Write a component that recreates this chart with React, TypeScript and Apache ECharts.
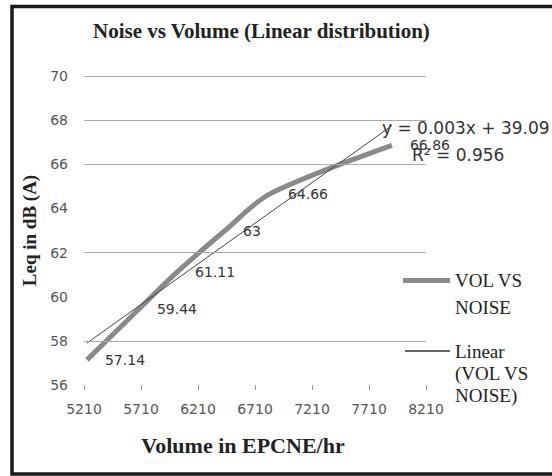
import React, { useEffect, useRef } from "react";
import * as echarts from "echarts";

// ---- data ----
const xTicks = [5210, 5710, 6210, 6710, 7210, 7710, 8210];
const volume = [5236, 5692, 6026, 6447, 6841, 7911];
const noise = [57.14, 59.44, 61.11, 63, 64.66, 66.86];
const trendVolume = [5236, 7911];
const trendNoise = [57.9, 67.75];
const gridValues = [58, 62, 66, 68, 70];
const seriesName = "VOL VS NOISE";
const trendName = "Linear (VOL VS NOISE)";
const equation = "y = 0.003x + 39.09";
const rSquared = "R² = 0.956";

const SERIF = "Liberation Serif";
const SANS = "DejaVu Sans";

export default function App() {
  const ref = useRef<HTMLDivElement>(null);
  useEffect(() => {
    if (!ref.current) return;
    const chart = echarts.init(ref.current, undefined, { renderer: "svg" });
    chart.setOption({
      animation: false,
      backgroundColor: "#ffffff",
      title: {
        text: "Noise vs Volume (Linear distribution)",
        left: 88,
        top: 15,
        textStyle: { fontFamily: SERIF, fontWeight: "bold", fontSize: 21, color: "#222" },
      },
      grid: { left: 84, right: 126, top: 76, bottom: 91, containLabel: false },
      xAxis: {
        type: "value",
        min: xTicks[0],
        max: xTicks[xTicks.length - 1],
        name: "Volume in EPCNE/hr",
        nameLocation: "middle",
        nameGap: 49,
        nameTextStyle: {
          fontFamily: SERIF,
          fontWeight: "bold",
          fontSize: 22,
          color: "#222",
          padding: [0, 24, 0, 0],
        },
        axisLine: { show: false },
        axisTick: { show: true, customValues: xTicks, length: 5, lineStyle: { color: "#999" } },
        axisLabel: {
          customValues: xTicks,
          formatter: (v: number) => String(v),
          fontFamily: SANS,
          fontSize: 14,
          color: "#555",
          margin: 17,
        },
        splitLine: { show: false },
      },
      yAxis: {
        type: "value",
        min: 56,
        max: 70,
        interval: 2,
        name: "Leq in dB (A)",
        nameLocation: "middle",
        nameGap: 41,
        nameTextStyle: { fontFamily: SERIF, fontWeight: "bold", fontSize: 19, color: "#222" },
        axisLine: { show: false },
        axisTick: { show: false },
        axisLabel: { fontFamily: SANS, fontSize: 14, color: "#555", margin: 16 },
        splitLine: { show: false },
      },
      legend: [
        {
          data: [seriesName],
          orient: "vertical",
          left: 403,
          top: 240,
          padding: 0,
          icon: "rect",
          itemWidth: 47,
          itemHeight: 5,
          itemGap: 4,
          itemStyle: { color: "#8a8a8a" },
          formatter: () => " \nVOL VS\nNOISE",
          textStyle: {
            fontFamily: SERIF,
            fontSize: 19,
            color: "#222",
            lineHeight: 27,
          },
        },
        {
          data: [trendName],
          orient: "vertical",
          left: 405,
          top: 296,
          padding: 0,
          icon: "rect",
          itemWidth: 45,
          itemHeight: 1.5,
          itemGap: 4,
          itemStyle: { color: "#333" },
          formatter: () => " \n \nLinear\n(VOL VS\nNOISE)",
          textStyle: {
            fontFamily: SERIF,
            fontSize: 19,
            color: "#222",
            lineHeight: 22,
          },
        },
      ],
      graphic: [
        {
          type: "rect",
          shape: { x: 12, y: 6.5, width: 600, height: 467.5 },
          style: { fill: "none", stroke: "#1a1a1a", lineWidth: 3.5 },
          silent: true,
        },
        {
          type: "text",
          x: 382,
          y: 128,
          style: { text: equation, font: `17px '${SANS}'`, fill: "#333", verticalAlign: "middle" },
          z: 10,
        },
        {
          type: "text",
          x: 412,
          y: 155,
          style: { text: rSquared, font: `17px '${SANS}'`, fill: "#333", verticalAlign: "middle" },
          z: 10,
        },
      ],
      series: [
        {
          name: "grid",
          type: "line",
          data: [],
          z: 0,
          silent: true,
          markLine: {
            silent: true,
            symbol: "none",
            label: { show: false },
            lineStyle: { color: "#aaaaaa", width: 1, type: "solid" },
            data: gridValues.map((v) => ({ yAxis: v })),
          },
        },
        {
          name: seriesName,
          type: "line",
          smooth: 0.3,
          data: volume.map((v, i) => [v, noise[i]]),
          symbol: "circle",
          symbolSize: 2,
          showSymbol: true,
          itemStyle: { color: "rgba(0,0,0,0)", borderWidth: 0 },
          lineStyle: { color: "#8a8a8a", width: 5 },
          label: {
            show: true,
            position: "right",
            distance: 17,
            fontFamily: SANS,
            fontSize: 14,
            color: "#333",
            formatter: (p: any) => String(p.value[1]),
          },
          z: 3,
        },
        {
          name: trendName,
          type: "line",
          data: trendVolume.map((v, i) => [v, trendNoise[i]]),
          symbol: "none",
          lineStyle: { color: "#444", width: 1 },
          itemStyle: { color: "#444" },
          z: 4,
        },
      ],
    });
    return () => chart.dispose();
  }, []);
  return (
    <div
      ref={ref}
      style={{ position: "absolute", left: 0, top: 0, width: 552, height: 476 }}
    />
  );
}
